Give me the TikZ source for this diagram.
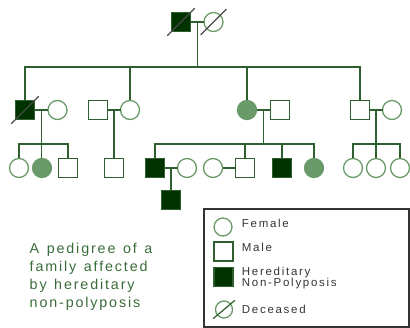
\documentclass[tikz,border=0pt]{standalone}
\usepackage{fontspec}
\setmainfont{Liberation Sans}
\newfontfamily\capfont[LetterSpace=13,WordSpace=1.3]{Liberation Sans}
\newfontfamily\legfont[LetterSpace=15]{Liberation Sans}
\usetikzlibrary{positioning}
\usepackage{xcolor}
\definecolor{lineg}{HTML}{2F5F2F}
\definecolor{circg}{HTML}{6A9A6A}
\definecolor{darkg}{HTML}{003300}
\definecolor{slashg}{HTML}{4A4A4A}
\definecolor{legtext}{HTML}{333333}
\definecolor{captext}{HTML}{3A6B3A}
\tikzset{
  male/.style={rectangle, draw=lineg, line width=1.6pt, fill=white, minimum size=19pt, inner sep=0pt, outer sep=0pt},
  female/.style={circle, draw=circg, line width=1.3pt, fill=white, minimum size=19pt, inner sep=0pt, outer sep=0pt},
  sickm/.style={male, fill=darkg},
  sickf/.style={female, fill=circg},
  link/.style={draw=lineg, line width=1.4pt},
  cross/.style={draw=slashg, line width=1.2pt, line cap=round},
  captxt/.style={anchor=base west, inner sep=0pt, text=captext, font=\capfont\fontsize{14.3}{18}\selectfont},
  legtxt/.style={anchor=base west, inner sep=0pt, text=legtext, font=\legfont\fontsize{11.5}{11}\selectfont}
}
\newcommand\deceased[2]{\draw[cross] (#1.center) ++(225:#2) -- ++(45:2*#2);}

\begin{document}
\begin{tikzpicture}[x=1pt, y=-1pt]
    \useasboundingbox (0,0) rectangle (410,328);

    % Первое поколение
    \node[sickm] (gm) at (181,22) {};
    \node[female] (gf) at (213.5,22) {};
    \draw[link] (gm) -- (gf) coordinate[midway] (p0);

    % Второе поколение
    \node[sickm] (a1) at (25,110) {};
    \node[female] (a1w) at (57.5,110) {};
    \node[male] (b1) at (98,110) {};
    \node[female] (b1w) at (130,110) {};
    \node[sickf] (c1) at (247,110) {};
    \node[male] (c1h) at (280,110) {};
    \node[male] (d1) at (360,110) {};
    \node[female] (d1w) at (392,110) {};

    \draw[link] (p0) -- (p0 |- 0,67);
    \draw[link] (a1.north) -- (a1 |- 0,67) -- (d1 |- 0,67) -- (d1.north);
    \draw[link] (b1w.north) -- (b1w |- 0,67);
    \draw[link] (c1.north) -- (c1 |- 0,67);

    \draw[link] (a1) -- (a1w) coordinate[midway] (p1);
    \draw[link] (b1) -- (b1w) coordinate[midway] (p2);
    \draw[link] (c1) -- (c1h) coordinate[midway] (p3);
    \draw[link] (d1) -- (d1w) coordinate[midway] (p4);

    % Третье поколение
    \node[female] (a2) at (19,168) {};
    \node[sickf] (a3) at (42,168) {};
    \node[male] (a4) at (68,168) {};
    \node[male] (b2) at (114,168) {};
    \node[sickm] (c2) at (155,168) {};
    \node[female] (c2w) at (187,168) {};
    \node[female] (c3w) at (213,168) {};
    \node[male] (c3) at (245,168) {};
    \node[sickm] (c4) at (282,168) {};
    \node[sickf] (c5) at (314,168) {};
    \node[female] (d2) at (353,168) {};
    \node[female] (d3) at (376,168) {};
    \node[female] (d4) at (400,168) {};

    \draw[link] (p1) -- (p1 |- a3.north);
    \draw[link] (a2.north) -- (a2 |- 0,144) -- (a4 |- 0,144) -- (a4.north);
    \draw[link] (p2) -- (p2 |- b2.north);
    \draw[link] (p3) -- (p3 |- 0,144);
    \draw[link] (c2.north) -- (c2 |- 0,144) -- (c5 |- 0,144) -- (c5.north);
    \draw[link] (c3.north) -- (c3 |- 0,144);
    \draw[link] (c4.north) -- (c4 |- 0,144);
    \draw[link] (p4) -- (p4 |- d3.north);
    \draw[link] (d2.north) -- (d2 |- 0,144) -- (d4 |- 0,144) -- (d4.north);

    \draw[link] (c2) -- (c2w) coordinate[midway] (q1);
    \draw[link] (c3w) -- (c3);

    % Четвёртое поколение
    \node[sickm] (e1) at (q1 |- 0,200) {};
    \draw[link] (q1) -- (e1.north);

    % Умершие
    \deceased{gm}{19pt}
    \deceased{gf}{18pt}
    \deceased{a1}{19pt}

    % Подпись
    \node[captxt] (cap1) at (29.5,253.3) {A pedigree of a};
    \node[captxt] (cap2) at (29.5,271.5) {family affected};
    \node[captxt] (cap3) at (29.5,289.7) {by hereditary};
    \node[captxt] (cap4) at (29.5,307.9) {non-polyposis};

    % Легенда
    \draw[line width=1.3pt, draw=legtext] (204,209) rectangle (409,327);
    \node[female, minimum size=18pt] (kf) at (223,227) {};
    \node[male, minimum size=19pt] (km) at (223.5,251.5) {};
    \node[sickm, minimum size=19pt] (ks) at (223.5,277) {};
    \node[female, minimum size=17pt] (kd) at (224,309.5) {};
    \draw[cross, draw=lineg] (kd.center) ++(220:14pt) -- ++(40:28pt);

    \node[legtxt] (lf) at (241.7,227.7) {Female};
    \node[legtxt] (lm) at (241.7,251.5) {Male};
    \node[legtxt] (lh1) at (241.7,276) {Hereditary};
    \node[legtxt] (lh2) at (241.7,287) {Non-Polyposis};
    \node[legtxt] (ld) at (241.7,314) {Deceased};
\end{tikzpicture}
\end{document}
